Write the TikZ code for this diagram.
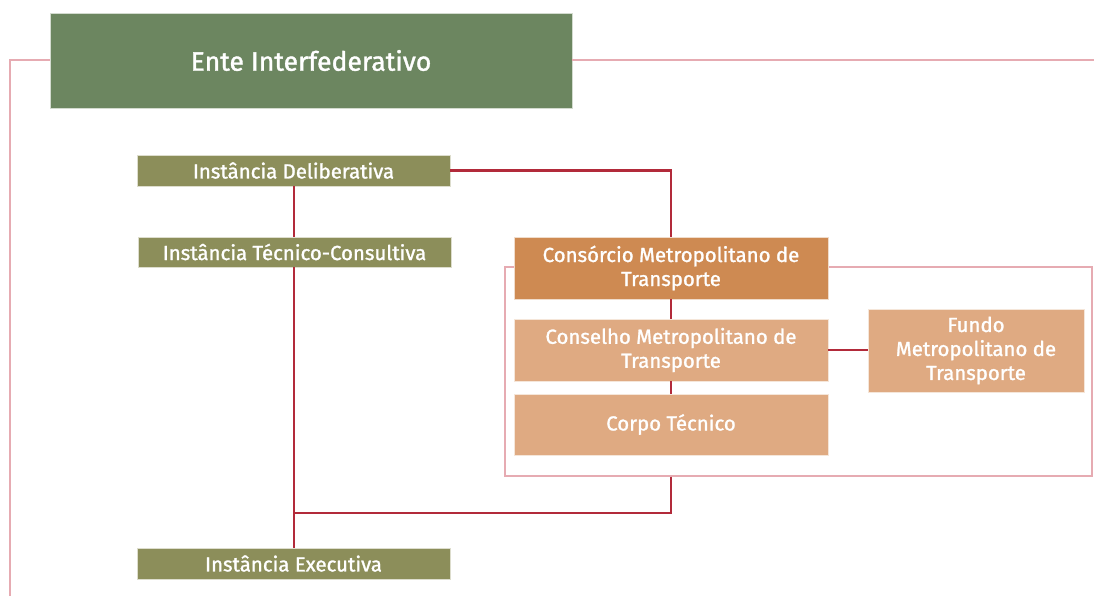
\documentclass[tikz,border=0pt]{standalone}
\usepackage{fontspec}
\setmainfont{Fira Sans}
\newfontfamily\medio{Fira Sans}[FakeBold=1.3]
\usepackage{tikz}
\definecolor{enteverde}{HTML}{6C8660}
\definecolor{oliva}{HTML}{8C8E5A}
\definecolor{laranja}{HTML}{CE8A52}
\definecolor{pessego}{HTML}{DFAA82}
\definecolor{vinho}{HTML}{B22A3A}
\definecolor{rosa}{HTML}{E6ABB2}

\begin{document}
\begin{tikzpicture}[x=0.5pt,y=-0.5pt,
		caixa/.style={fill=#1, draw=white!70!#1, line width=0.4pt, text=white, font=\medio\fontsize{10.2}{12}\selectfont, align=center, inner sep=0pt},
		liga/.style={draw=vinho, line width=1.2pt},
		moldura/.style={draw=rosa, line width=0.7pt}]
			\useasboundingbox (0,0) rectangle (1094,596);
			% moldura externa e grupo do consorcio
			\node[moldura, minimum width=293.5pt, minimum height=104.5pt, inner sep=0pt] (grupo) at (798.5,371.5) {};
			\coordinate (canto) at (10,60);
			\coordinate (base) at (10,596);
			\coordinate (direita) at (1094,60);
			% caixas
			\node[caixa=enteverde, minimum width=261pt, minimum height=47.5pt, font=\medio\fontsize{13.3}{16}\selectfont] (ente) at (311,60.5) {Ente Interfederativo};
			\node[caixa=oliva, minimum width=156.5pt, minimum height=15.5pt] (delib) at (293.5,170.5) {Instância Deliberativa};
			\node[caixa=oliva, minimum width=156.5pt, minimum height=15pt] (tecnica) at (294.5,252) {Instância Técnico-Consultiva};
			\node[caixa=oliva, minimum width=156.5pt, minimum height=15.5pt] (exec) at (293.5,563.5) {Instância Executiva};
			\node[caixa=laranja, minimum width=157pt, minimum height=31pt] (consorcio) at (671,268) {Consórcio Metropolitano de\\Transporte};
			\node[caixa=pessego, minimum width=157pt, minimum height=31pt] (conselho) at (671,350) {Conselho Metropolitano de\\Transporte};
			\node[caixa=pessego, minimum width=157pt, minimum height=30.5pt] (corpo) at (671,424.5) {Corpo Técnico};
			\node[caixa=pessego, minimum width=108pt, minimum height=41.5pt] (fundo) at (976,350.5) {Fundo\\Metropolitano de\\Transporte};
			\coordinate (juncao) at (294,513);
			% ligacoes
			\draw[moldura] (base) -- (canto) -- (ente.west |- canto);
			\draw[moldura] (ente.east |- direita) -- (direita);
			\draw[liga] (delib.east) -| (consorcio.north);
			\draw[liga] (consorcio.south) -- (conselho.north);
			\draw[liga] (conselho.south) -- (corpo.north);
			\draw[liga] (conselho.east) -- (conselho.east -| fundo.west);
			\draw[liga] (grupo.south -| consorcio.south) |- (juncao);
			\draw[liga] (delib.south -| juncao) -- (tecnica.north -| juncao);
			\draw[liga] (tecnica.south -| juncao) -- (exec.north -| juncao);
		\end{tikzpicture}
\end{document}
